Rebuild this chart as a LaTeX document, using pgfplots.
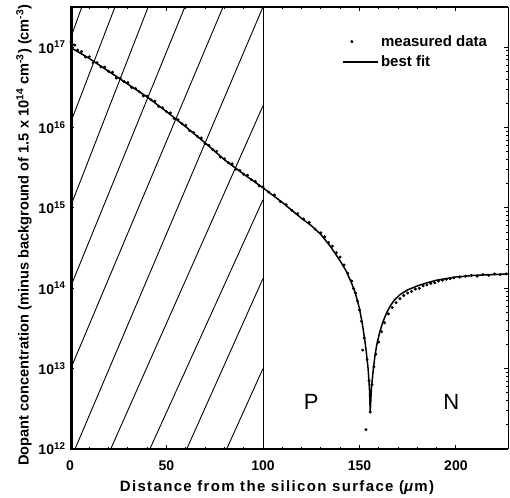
\documentclass[border=0pt]{standalone}
\usepackage{pgfplots}
\pgfplotsset{compat=1.18}
\usepackage{fontspec}
\setmainfont{Liberation Sans}
\newfontfamily\spaced[LetterSpace=9]{Liberation Sans}
\begin{document}
\begin{tikzpicture}
\begin{axis}[
  scale only axis, width=438pt, height=442pt,
  ymode=log, xmin=0, xmax=227, ymin=1e12, ymax=3.162e17,
  xtick={0,50,100,150,200}, minor x tick num=4,
  ytick={1e12,1e13,1e14,1e15,1e16,1e17},
  yticklabels={10\textsuperscript{12},10\textsuperscript{13},10\textsuperscript{14},10\textsuperscript{15},10\textsuperscript{16},10\textsuperscript{17}},
  /pgf/number format/assume math mode=true,
  tick align=inside, major tick length=4pt, minor tick length=2.5pt,
  tick style={black, line width=0.9pt},
  separate axis lines,
  x axis line style={line width=1.6pt},
  y axis line style={line width=0.6pt},
  xlabel={Distance from the silicon surface (\textit{μ}m)},
  ylabel={Dopant concentration (minus background of 1.5 x 10\textsuperscript{14} cm\textsuperscript{-3}) (cm\textsuperscript{-3})},
  xlabel style={font=\spaced\fontsize{15}{17}\selectfont\bfseries, yshift=-3pt, xshift=-12pt},
  ylabel style={font=\fontsize{14.6}{16}\selectfont\bfseries, at={(ticklabel cs:0.484)}},
  ticklabel style={font=\fontsize{14}{16}\selectfont\bfseries},
  xticklabel style={yshift=-8pt},
  yticklabel style={xshift=-1pt},
  legend style={draw=none, fill=none, at={(rel axis cs:0.615,0.945)}, anchor=north west,
    font=\fontsize{15}{17}\selectfont\bfseries, row sep=4pt},
  legend cell align=left,
]
% hatched region 0-100 um
\addplot[black, line width=0.9pt, forget plot] coordinates {(0,1.23e17) (6.1,3.162e17)};
\addplot[black, line width=0.9pt, forget plot] coordinates {(0,1.10e16) (23.3,3.162e17)};
\addplot[black, line width=0.9pt, forget plot] coordinates {(0,1.0e15) (40.5,3.162e17)};
\addplot[black, line width=0.9pt, forget plot] coordinates {(0,1.0e14) (59.5,3.162e17)};
\addplot[black, line width=0.9pt, forget plot] coordinates {(0,9.5e12) (79.3,3.162e17)};
\addplot[black, line width=0.9pt, forget plot] coordinates {(2.6,1e12) (100,3.162e17)};
\addplot[black, line width=0.9pt, forget plot] coordinates {(21.1,1e12) (100,1.86e16)};
\addplot[black, line width=0.9pt, forget plot] coordinates {(41.4,1e12) (100,1.26e15)};
\addplot[black, line width=0.9pt, forget plot] coordinates {(60.5,1e12) (100,1.32e14)};
\addplot[black, line width=0.9pt, forget plot] coordinates {(81.2,1e12) (100,1.0e13)};
\addplot[black, line width=0.9pt, forget plot] coordinates {(100,1e12) (100,3.162e17)};

% measured data
\addplot[only marks, mark=*, mark size=1.3pt, black] coordinates {
(0.5,1.16e17) (1.5,1.07e17) (2.5,1.06e17) (4,9.2e16) (6,8.83e16) (8,7.55e16)
(10,7.59e16) (12,6.43e16) (14,6.40e16) (16,5.68e16) (18,5.65e16) (20,5.01e16)
(22,4.88e16) (24,4.13e16) (26,4.11e16) (28,3.73e16) (30,3.63e16) (32,3.15e16)
(34,3.06e16) (36,2.78e16) (38,2.47e16) (40,2.45e16) (42,2.21e16) (44,2.13e16)
(46,1.83e16) (48,1.76e16) (50,1.58e16) (52,1.52e16) (54,1.30e16) (56,1.25e16)
(58,1.12e16) (60,1.07e16) (62,9.12e15) (64,8.71e15) (66,7.76e15) (68,7.41e15)
(70,6.31e15) (72,6.00e15) (74,5.32e15) (76,5.06e15) (78,4.29e15) (80,4.07e15)
(82,3.66e15) (84,3.53e15) (86,3.03e15) (88,2.92e15) (90,2.63e15) (92,2.55e15)
(94,2.25e15) (96,2.13e15) (98,1.88e15) (100,1.82e15) (103,1.57e15) (106,1.45e15)
(109,1.20e15) (112,1.10e15) (115,9.33e14) (118,8.51e14) (121,7.28e14) (124,6.58e14)
(127,5.45e14) (130,4.90e14) (132,4.37e14) (134,3.72e14) (136,3.34e14) (138,2.77e14)
(140,2.45e14) (142,1.95e14) (144,1.54e14) (146,1.23e14) (147,9.89e13) (148,8.71e13)
(149,6.92e13) (150,5.37e13) (151,3.89e13) (151.7,1.70e13) (152.5,2.40e13) (153.4,1.74e12)
(154,1.29e13) (155,7.08e12) (155.6,2.88e12) (156.5,6.31e12) (157.5,1.05e13) (158.5,1.51e13)
(160,2.14e13) (161.5,2.88e13) (163,3.72e13) (165,4.79e13) (167,5.75e13) (169,6.61e13)
(171,7.41e13) (173,8.13e13) (175,8.71e13) (177,9.12e13) (179,9.77e13) (181,1.00e14)
(183,1.07e14) (185,1.10e14) (187,1.15e14) (189,1.17e14) (191,1.23e14) (193,1.26e14)
(195,1.29e14) (197,1.32e14) (199,1.35e14) (202,1.38e14) (205,1.41e14) (208,1.45e14)
(211,1.41e14) (214,1.48e14) (217,1.45e14) (220,1.51e14) (223,1.48e14) (226,1.51e14)
};
\addlegendentry{measured data}

% best fit
\addplot[black, line width=1.5pt, no marks,
  legend image code/.code={\draw[black, line width=1.5pt] (0pt,0pt) -- (35pt,0pt);}] coordinates {
(0,1.00e17) (10,7.24e16) (20,5.01e16) (30,3.47e16) (40,2.40e16) (50,1.58e16)
(60,1.02e16) (70,6.46e15) (80,3.98e15) (90,2.63e15) (100,1.78e15) (110,1.17e15)
(120,7.41e14) (125,6.03e14) (130,4.68e14) (135,3.31e14) (140,2.19e14) (143,1.66e14)
(146,1.15e14) (148,8.51e13) (150,5.62e13) (151.5,3.63e13) (152.5,2.51e13) (153.5,1.66e13)
(154.5,1.00e13) (155.2,5.62e12) (155.6,2.88e12) (156.2,5.62e12) (157,8.91e12) (158,1.41e13)
(159,2.00e13) (160.5,2.82e13) (162,3.72e13) (164,4.90e13) (166,6.03e13) (168,7.08e13)
(171,8.32e13) (175,9.55e13) (180,1.07e14) (185,1.17e14) (190,1.26e14) (195,1.32e14)
(200,1.38e14) (210,1.45e14) (220,1.48e14) (227,1.51e14)
};
\addlegendentry{best fit}

\node[font=\fontsize{22}{24}\selectfont] at (125,3.8e12) {P};
\node[font=\fontsize{22}{24}\selectfont] at (197.6,3.8e12) {N};
\draw[line width=5pt] (rel axis cs:0,0) -- (rel axis cs:0,1);
\end{axis}
\path ([xshift=-70pt,yshift=-48pt]current axis.south west) rectangle ([xshift=2pt,yshift=7pt]current axis.north east);
\end{tikzpicture}
\end{document}
